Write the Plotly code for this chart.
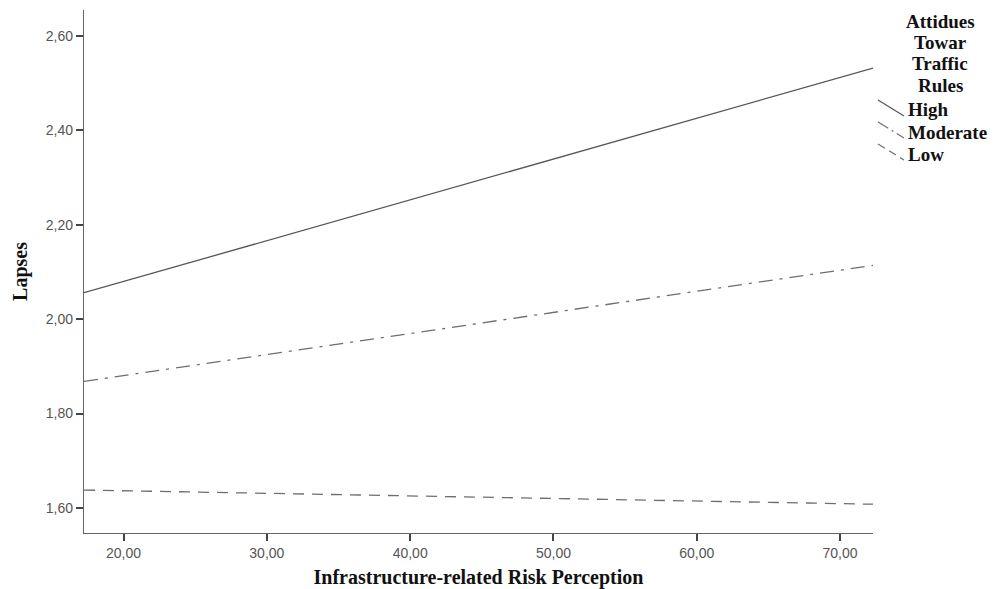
import plotly.graph_objects as go

# Fitted simple slopes of Lapses on risk perception, per attitude group
x_range = [17.24, 72.3]
groups = ["High", "Moderate", "Low"]
lapses_high = [2.056, 2.532]
lapses_moderate = [1.868, 2.114]
lapses_low = [1.638, 1.608]

x_ticks = [20, 30, 40, 50, 60, 70]
y_ticks = [1.6, 1.8, 2.0, 2.2, 2.4, 2.6]

styles = {
    "High": dict(color="#555555", dash="solid", width=1.3),
    "Moderate": dict(color="#6e6e6e", dash="14px,7px,3px,7px", width=1.3),
    "Low": dict(color="#6e6e6e", dash="11px,8px", width=1.3),
}
series = {"High": lapses_high, "Moderate": lapses_moderate, "Low": lapses_low}

fig = go.Figure()
for g in groups:
    fig.add_trace(go.Scatter(x=x_range, y=series[g], mode="lines", name=g,
                             line=styles[g], showlegend=False, hoverinfo="skip"))

W, H = 1006, 589
L, R, T, B = 84, 133, 10, 56

def px(xp):
    return (xp - L) / (W - L - R)

def py(yp):
    return 1 - (yp - T) / (H - T - B)

serif = "Liberation Serif"

# Legend title
title_lines = ["Attidues", "Towar", "Traffic", "Rules"]
for i, t in enumerate(title_lines):
    fig.add_annotation(x=px(940), y=py(21 + i * 21.5), xref="paper", yref="paper",
                       text=f"<b>{t}</b>", showarrow=False, xanchor="center",
                       yanchor="middle", font=dict(family=serif, size=19, color="#111111"))

# Legend entries with slanted key lines
for i, g in enumerate(groups):
    yc = 110 + i * 22
    fig.add_shape(type="line", xref="paper", yref="paper",
                  x0=px(878), y0=py(yc - 10), x1=px(904), y1=py(yc + 6),
                  line=dict(color=styles[g]["color"], width=1.2,
                            dash={"High": "solid", "Moderate": "12px,4px,2px,4px",
                                  "Low": "8px,5px"}[g]))
    fig.add_annotation(x=px(906), y=py(yc), xref="paper", yref="paper",
                       text=f"<b>{g}</b>", showarrow=False, xanchor="left",
                       yanchor="middle", font=dict(family=serif, size=19, color="#111111"))

axis_common = dict(showgrid=False, zeroline=False, showline=True, linecolor="#666666",
                   linewidth=1.3, ticks="outside", ticklen=7, tickwidth=1.5,
                   tickcolor="#444444", tickformat=".2f", automargin=False,
                   tickfont=dict(family="Liberation Sans", size=14, color="#555555"))

fig.update_layout(
    width=W, height=H,
    margin=dict(l=L, r=R, t=T, b=B),
    paper_bgcolor="white", plot_bgcolor="white",
    separators=",.",
    xaxis=dict(range=x_range, tickvals=x_ticks,
               title=dict(text="<b>Infrastructure-related Risk Perception</b>",
                          font=dict(family=serif, size=20, color="#111111"), standoff=12),
               **axis_common),
    yaxis=dict(range=[1.547, 2.655], tickvals=y_ticks,
               title=dict(text="<b>Lapses</b>",
                          font=dict(family=serif, size=20, color="#111111"), standoff=12),
               **axis_common),
)

fig.write_html("out.html")
